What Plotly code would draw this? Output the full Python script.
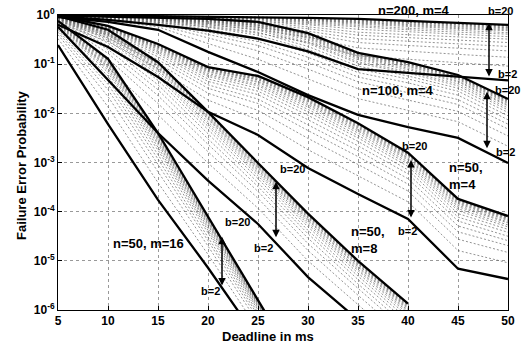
import plotly.graph_objects as go

# Deadline values (ms)
DEADLINE = [5, 10, 15, 20, 25, 30, 35, 40, 45, 50]

# log10(failure error probability)
N200_M4_B20 = [0, -0.01, -0.02, -0.03, -0.04, -0.06, -0.08, -0.12, -0.16, -0.2]
N200_M4_B2 = [-0.03, -0.1, -0.2, -0.32, -0.48, -0.74, -1.1, -1.18, -1.26, -1.33]
N200_M4_MID = [
    [-0.02, -0.08, -0.15, -0.24, -0.37, -0.56, -0.83, -0.90, -0.97, -1.04],
    [-0.02, -0.06, -0.12, -0.20, -0.30, -0.45, -0.67, -0.74, -0.80, -0.86],
    [-0.01, -0.05, -0.10, -0.17, -0.25, -0.38, -0.56, -0.62, -0.68, -0.73],
    [-0.01, -0.05, -0.09, -0.14, -0.21, -0.33, -0.48, -0.53, -0.59, -0.64],
    [-0.01, -0.04, -0.08, -0.12, -0.18, -0.28, -0.41, -0.46, -0.51, -0.56],
    [-0.01, -0.03, -0.07, -0.11, -0.15, -0.24, -0.35, -0.40, -0.45, -0.49],
    [-0.01, -0.03, -0.06, -0.09, -0.13, -0.20, -0.29, -0.34, -0.39, -0.44],
    [-0.01, -0.03, -0.05, -0.08, -0.12, -0.18, -0.25, -0.30, -0.35, -0.39],
    [0, -0.02, -0.05, -0.07, -0.10, -0.16, -0.22, -0.27, -0.31, -0.36],
    [0, -0.02, -0.04, -0.06, -0.09, -0.14, -0.19, -0.24, -0.28, -0.32],
    [0, -0.02, -0.04, -0.06, -0.08, -0.12, -0.17, -0.22, -0.26, -0.30],
    [0, -0.02, -0.03, -0.05, -0.07, -0.11, -0.15, -0.19, -0.24, -0.28],
    [0, -0.01, -0.03, -0.05, -0.06, -0.10, -0.14, -0.18, -0.22, -0.26],
    [0, -0.01, -0.03, -0.04, -0.06, -0.09, -0.12, -0.16, -0.20, -0.25],
    [0, -0.01, -0.03, -0.04, -0.05, -0.08, -0.11, -0.15, -0.19, -0.23],
    [0, -0.01, -0.02, -0.04, -0.05, -0.07, -0.10, -0.14, -0.18, -0.22],
    [0, -0.01, -0.02, -0.03, -0.04, -0.07, -0.09, -0.13, -0.17, -0.21],
]

N100_M4_B20 = [-0.01, -0.03, -0.06, -0.08, -0.14, -0.37, -0.77, -0.96, -1.22, -1.71]
N100_M4_B2 = [-0.04, -0.14, -0.3, -0.75, -1.16, -1.63, -2.03, -2.28, -2.5, -3.01]
N100_M4_MID = [
    [-0.03, -0.11, -0.24, -0.58, -0.90, -1.30, -1.70, -1.94, -2.17, -2.67],
    [-0.03, -0.09, -0.20, -0.47, -0.73, -1.10, -1.50, -1.73, -1.96, -2.46],
    [-0.02, -0.08, -0.17, -0.40, -0.62, -0.96, -1.36, -1.58, -1.82, -2.32],
    [-0.02, -0.07, -0.15, -0.34, -0.54, -0.86, -1.26, -1.48, -1.72, -2.22],
    [-0.02, -0.07, -0.14, -0.29, -0.47, -0.77, -1.17, -1.38, -1.63, -2.13],
    [-0.02, -0.06, -0.12, -0.25, -0.41, -0.70, -1.10, -1.30, -1.55, -2.05],
    [-0.02, -0.05, -0.11, -0.22, -0.35, -0.64, -1.04, -1.24, -1.49, -1.98],
    [-0.02, -0.05, -0.10, -0.19, -0.31, -0.58, -0.98, -1.18, -1.44, -1.93],
    [-0.01, -0.05, -0.09, -0.17, -0.28, -0.55, -0.95, -1.15, -1.40, -1.89],
    [-0.01, -0.04, -0.09, -0.15, -0.25, -0.51, -0.91, -1.11, -1.36, -1.85],
    [-0.01, -0.04, -0.08, -0.14, -0.23, -0.48, -0.88, -1.08, -1.34, -1.83],
    [-0.01, -0.04, -0.08, -0.13, -0.21, -0.46, -0.86, -1.05, -1.31, -1.80],
    [-0.01, -0.04, -0.07, -0.12, -0.20, -0.44, -0.84, -1.03, -1.29, -1.78],
    [-0.01, -0.03, -0.07, -0.11, -0.18, -0.42, -0.82, -1.01, -1.27, -1.76],
    [-0.01, -0.03, -0.07, -0.10, -0.17, -0.41, -0.81, -1.00, -1.26, -1.75],
    [-0.01, -0.03, -0.06, -0.09, -0.16, -0.40, -0.80, -0.99, -1.25, -1.74],
    [-0.01, -0.03, -0.06, -0.09, -0.15, -0.38, -0.78, -0.97, -1.23, -1.72],
]

N50_M4_B20 = [-0.02, -0.22, -0.59, -1.06, -1.24, -1.67, -2.2, -2.8, -3.74, -4.09]
N50_M4_B2 = [-0.2, -0.65, -1.26, -1.97, -2.44, -3.11, -3.64, -4.15, -5.16, -5.37]
N50_M4_MID = [
    [-0.15, -0.54, -1.09, -1.73, -2.13, -2.74, -3.27, -3.80, -4.79, -5.04],
    [-0.12, -0.47, -0.98, -1.59, -1.94, -2.51, -3.04, -3.58, -4.56, -4.83],
    [-0.11, -0.42, -0.91, -1.49, -1.80, -2.35, -2.88, -3.44, -4.41, -4.69],
    [-0.09, -0.39, -0.85, -1.42, -1.71, -2.23, -2.76, -3.33, -4.29, -4.59],
    [-0.08, -0.36, -0.80, -1.35, -1.62, -2.13, -2.66, -3.23, -4.19, -4.50],
    [-0.07, -0.33, -0.76, -1.30, -1.55, -2.04, -2.57, -3.15, -4.11, -4.42],
    [-0.06, -0.31, -0.73, -1.25, -1.49, -1.97, -2.50, -3.08, -4.04, -4.36],
    [-0.05, -0.29, -0.70, -1.22, -1.44, -1.92, -2.45, -3.03, -3.98, -4.31],
    [-0.05, -0.28, -0.68, -1.19, -1.41, -1.87, -2.40, -2.99, -3.94, -4.27],
    [-0.04, -0.27, -0.66, -1.16, -1.37, -1.83, -2.36, -2.95, -3.90, -4.23],
    [-0.04, -0.26, -0.65, -1.14, -1.35, -1.80, -2.33, -2.92, -3.87, -4.21],
    [-0.03, -0.25, -0.64, -1.12, -1.32, -1.77, -2.30, -2.90, -3.84, -4.18],
    [-0.03, -0.24, -0.63, -1.11, -1.31, -1.75, -2.28, -2.87, -3.82, -4.16],
    [-0.03, -0.24, -0.62, -1.10, -1.29, -1.73, -2.26, -2.85, -3.80, -4.14],
    [-0.03, -0.23, -0.61, -1.09, -1.28, -1.71, -2.24, -2.84, -3.78, -4.13],
    [-0.02, -0.23, -0.60, -1.08, -1.26, -1.70, -2.23, -2.83, -3.77, -4.12],
    [-0.02, -0.22, -0.60, -1.07, -1.25, -1.68, -2.21, -2.81, -3.75, -4.10],
]

N50_M8_B20 = [-0.02, -0.3, -0.96, -1.97, -3.01, -4.04, -5.0, -5.87]
N50_M8_B2 = [-0.24, -1.32, -2.4, -3.37, -4.25, -5.33, -6.2]
N50_M8_MID = [
    [-0.18, -1.06, -2.03, -3.01, -3.93, -5.00, -5.89, -6.78],
    [-0.15, -0.89, -1.80, -2.78, -3.73, -4.79, -5.70, -6.58],
    [-0.12, -0.78, -1.64, -2.63, -3.59, -4.65, -5.56, -6.45],
    [-0.11, -0.70, -1.52, -2.52, -3.49, -4.54, -5.47, -6.35],
    [-0.09, -0.63, -1.42, -2.42, -3.41, -4.45, -5.38, -6.26],
    [-0.08, -0.57, -1.33, -2.33, -3.33, -4.38, -5.31, -6.19],
    [-0.07, -0.51, -1.26, -2.26, -3.27, -4.31, -5.25, -6.13],
    [-0.06, -0.47, -1.21, -2.21, -3.22, -4.26, -5.20, -6.08],
    [-0.05, -0.44, -1.16, -2.17, -3.18, -4.22, -5.17, -6.04],
    [-0.04, -0.41, -1.12, -2.12, -3.15, -4.18, -5.13, -6.01],
    [-0.04, -0.39, -1.09, -2.10, -3.12, -4.16, -5.11, -5.98],
    [-0.04, -0.37, -1.06, -2.07, -3.10, -4.13, -5.08, -5.96],
    [-0.03, -0.36, -1.04, -2.05, -3.08, -4.11, -5.07, -5.94],
    [-0.03, -0.34, -1.02, -2.03, -3.06, -4.09, -5.05, -5.92],
    [-0.03, -0.33, -1.00, -2.01, -3.05, -4.08, -5.04, -5.91],
    [-0.02, -0.32, -0.99, -2.00, -3.03, -4.07, -5.02, -5.89],
    [-0.02, -0.31, -0.97, -1.98, -3.02, -4.05, -5.01, -5.88],
]

N50_M16_B20 = [-0.12, -0.89, -2.4, -4.1, -5.8, -7.5]
N50_M16_B2 = [-0.61, -2.22, -3.76, -5.14, -6.6]
N50_M16_MID = [
    [-0.48, -1.87, -3.41, -4.87, -6.39, -7.87],
    [-0.40, -1.66, -3.19, -4.70, -6.26, -7.79],
    [-0.35, -1.52, -3.04, -4.59, -6.18, -7.74],
    [-0.31, -1.41, -2.93, -4.51, -6.11, -7.70],
    [-0.28, -1.32, -2.84, -4.43, -6.06, -7.66],
    [-0.25, -1.24, -2.75, -4.37, -6.01, -7.63],
    [-0.22, -1.17, -2.69, -4.32, -5.97, -7.61],
    [-0.20, -1.12, -2.63, -4.28, -5.94, -7.59],
    [-0.19, -1.08, -2.59, -4.25, -5.91, -7.57],
    [-0.17, -1.04, -2.55, -4.21, -5.89, -7.56],
    [-0.16, -1.01, -2.52, -4.19, -5.87, -7.55],
    [-0.15, -0.98, -2.50, -4.17, -5.86, -7.54],
    [-0.15, -0.96, -2.47, -4.16, -5.84, -7.53],
    [-0.14, -0.94, -2.45, -4.14, -5.83, -7.52],
    [-0.13, -0.93, -2.44, -4.13, -5.82, -7.52],
    [-0.13, -0.92, -2.43, -4.12, -5.82, -7.51],
    [-0.12, -0.90, -2.42, -4.11, -5.81, -7.50],
]

Y_TICK_EXPONENTS = [0, -1, -2, -3, -4, -5, -6]
X_TICKS = [5, 10, 15, 20, 25, 30, 35, 40, 45, 50]

FONT = "Liberation Sans, Arial, sans-serif"

# plot area in pixels (for placing paper-referenced texts)
PL, PR, PT, PB = 58, 508, 15, 310


def px_to_paper(px, py):
    return (px - PL) / (PR - PL), (PB - py) / (PB - PT)


fig = go.Figure()

families = [
    (N200_M4_B20, N200_M4_B2, N200_M4_MID),
    (N100_M4_B20, N100_M4_B2, N100_M4_MID),
    (N50_M4_B20, N50_M4_B2, N50_M4_MID),
    (N50_M8_B20, N50_M8_B2, N50_M8_MID),
    (N50_M16_B20, N50_M16_B2, N50_M16_MID),
]


def add_line(vals, thick):
    xs = DEADLINE[:len(vals)]
    ys = [10 ** v for v in vals]
    if thick:
        line = dict(color="black", width=2.3)
    else:
        line = dict(color="#666666", width=0.7, dash="2px,2px")
    fig.add_trace(go.Scatter(x=xs, y=ys, mode="lines", line=line,
                             showlegend=False, hoverinfo="skip"))


for b20, b2, mid in families:
    for m in mid:
        add_line(m, False)
for b20, b2, mid in families:
    add_line(b20, True)
    add_line(b2, True)

annotations = []


def label(text, x, y, size=11, xanchor="center"):
    annotations.append(dict(text="<b>" + text + "</b>", x=x, y=y, xref="x", yref="y",
                            showarrow=False, xanchor=xanchor, yanchor="middle",
                            align="left", font=dict(family=FONT, size=size, color="black")))


def plabel(text, px, py, size=11):
    xp, yp = px_to_paper(px, py)
    annotations.append(dict(text="<b>" + text + "</b>", x=xp, y=yp, xref="paper",
                            yref="paper", showarrow=False, xanchor="center",
                            yanchor="middle", font=dict(family=FONT, size=size, color="black")))


def arrow(x, ytop, ybot):
    annotations.append(dict(text="", x=x, y=ytop, ax=x, ay=ybot, xref="x", yref="y",
                            axref="x", ayref="y", showarrow=True, arrowhead=2,
                            arrowside="end+start", arrowsize=1, arrowwidth=1.5,
                            arrowcolor="black", standoff=0, startstandoff=0))


plabel("n=200, m=4", 414, 10, 13)
plabel("b=20", 500, 11)
label("b=2", 49.9, -1.2)
arrow(48.1, -0.16, -1.28)

label("n=100, m=4", 39.0, -1.54, 13)
label("b=20", 49.9, -1.52)
label("b=2", 49.7, -2.78)
arrow(47.9, -1.56, -2.74)

label("b=20", 40.6, -2.66)
label("b=2", 39.9, -4.39)
label("n=50,<br>m=4", 43.9, -3.27, 13, "left")
arrow(40.3, -2.95, -4.15)

label("b=20", 28.4, -3.13)
label("b=2", 25.5, -4.73)
label("n=50,<br>m=8", 34.1, -4.57, 13, "left")
arrow(26.8, -3.39, -4.55)

label("b=20", 22.9, -4.2)
label("b=2", 20.2, -5.61)
label("n=50, m=16", 14.0, -4.65, 13)
arrow(21.4, -4.51, -5.53)

xp, yp = px_to_paper(268, 336)
annotations.append(dict(text="<b>Deadline in ms</b>", x=xp, y=yp,
                        xref="paper", yref="paper", showarrow=False,
                        xanchor="center", yanchor="middle",
                        font=dict(family=FONT, size=13, color="black")))
xp, yp = px_to_paper(21, 165)
annotations.append(dict(text="<b>Failure Error Probability</b>", x=xp, y=yp,
                        xref="paper", yref="paper", showarrow=False,
                        textangle=-90, xanchor="center", yanchor="middle",
                        font=dict(family=FONT, size=13, color="black")))

axis_common = dict(showgrid=True, gridcolor="#999999", griddash="dot", gridwidth=1,
                   showline=True, linecolor="black", linewidth=1, mirror=True,
                   ticks="inside", ticklen=4, tickcolor="black", zeroline=False,
                   automargin=False,
                   tickfont=dict(family=FONT, size=12, color="black"))

fig.update_layout(
    width=528, height=347,
    margin=dict(l=PL, r=528 - PR, t=PT, b=347 - PB, autoexpand=False),
    paper_bgcolor="white", plot_bgcolor="white",
    font=dict(family=FONT, size=12, color="black"),
    annotations=annotations,
    xaxis=dict(range=[5, 50], tickvals=X_TICKS,
               ticktext=["<b>%d</b>" % v for v in X_TICKS], **axis_common),
    yaxis=dict(type="log", range=[-6, 0],
               tickvals=[10 ** e for e in Y_TICK_EXPONENTS],
               ticktext=["<b>10<sup>%d</sup></b>" % e for e in Y_TICK_EXPONENTS],
               **axis_common),
)

fig.write_html("out.html", config={"displayModeBar": False},
               post_script="document.body.style.margin='0';document.body.style.overflow='hidden';")
